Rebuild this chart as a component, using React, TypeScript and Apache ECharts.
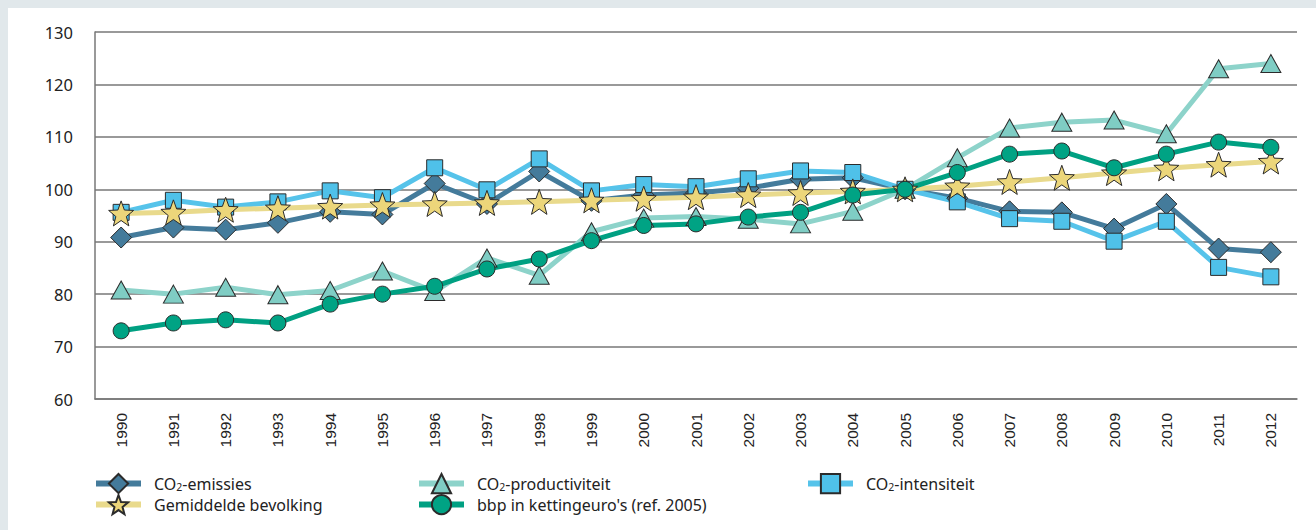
import React, { useEffect, useRef } from "react";
import * as echarts from "echarts";

const years = ["1990","1991","1992","1993","1994","1995","1996","1997","1998","1999","2000","2001","2002","2003","2004","2005","2006","2007","2008","2009","2010","2011","2012"];
const co2Emissies = [90.8, 92.7, 92.3, 93.6, 95.7, 95.2, 101.1, 97.2, 103.4, 97.8, 98.9, 99.3, 100.2, 101.9, 102.2, 100, 98.3, 95.8, 95.6, 92.5, 97.2, 88.7, 88.0];
const bevolking = [95.4, 95.6, 96.1, 96.4, 96.7, 97.0, 97.2, 97.4, 97.6, 97.9, 98.2, 98.5, 98.9, 99.3, 99.6, 100, 100.6, 101.4, 102.2, 103.1, 104.0, 104.7, 105.3];
const co2Productiviteit = [80.8, 80.0, 81.3, 79.9, 80.7, 84.4, 80.5, 86.9, 83.6, 91.9, 94.5, 94.8, 94.3, 93.4, 95.8, 100, 106.0, 111.7, 112.8, 113.2, 110.6, 123.0, 124.0];
const bbp = [73.0, 74.5, 75.1, 74.5, 78.1, 80.0, 81.5, 84.8, 86.7, 90.2, 93.1, 93.4, 94.7, 95.6, 98.9, 100, 103.2, 106.7, 107.3, 104.1, 106.7, 109.0, 108.0];
const co2Intensiteit = [95.6, 97.9, 96.6, 97.6, 99.7, 98.4, 104.1, 99.9, 105.8, 99.7, 100.9, 100.5, 102.0, 103.5, 103.2, 100, 97.6, 94.4, 93.9, 90.1, 93.9, 85.1, 83.3];
const yTicks = { min: 60, max: 130, interval: 10 };

const names = {
  emissies: "CO2-emissies",
  bevolking: "Gemiddelde bevolking",
  productiviteit: "CO2-productiviteit",
  bbp: "bbp in kettingeuro's (ref. 2005)",
  intensiteit: "CO2-intensiteit",
};

function starPath(): string {
  const pts: string[] = [];
  for (let i = 0; i < 10; i++) {
    const r = i % 2 === 0 ? 50 : 21;
    const a = -Math.PI / 2 + (i * Math.PI) / 5;
    pts.push(`${(50 + r * Math.cos(a)).toFixed(2)} ${(52 + r * Math.sin(a)).toFixed(2)}`);
  }
  return "path://M" + pts.join(" L") + " Z";
}

export default function App() {
  const ref = useRef<HTMLDivElement>(null);
  useEffect(() => {
    if (!ref.current) return;
    const chart = echarts.init(ref.current, undefined, { renderer: "svg" });
    const border = "#2b2b2b";
    const font = "'Noto Sans', 'Open Sans', sans-serif";
    const legendFmt = (n: string) => n.startsWith("CO2") ? "CO{sub|2}" + n.slice(3) : n;
    const legendText = {
      fontFamily: font,
      fontSize: 16,
      lineHeight: 17,
      color: "#222",
      padding: [0, 0, 0, 8],
      rich: {
        sub: { fontFamily: font, fontSize: 10.5, lineHeight: 11, color: "#222", padding: [7, 0, 0, 0] },
      },
    };
    const mkLegend = (left: number, top: number, name: string) => ({
      left,
      top,
      padding: 0,
      itemWidth: 45,
      itemHeight: 24,
      data: [name],
      formatter: legendFmt,
      textStyle: legendText,
      lineStyle: { width: 6 },
      selectedMode: false,
    });
    const line = (name: string, data: number[], lineColor: string, fill: string, symbol: string, size: number | number[]) => ({
      name,
      type: "line",
      data,
      symbol,
      symbolSize: size,
      showAllSymbol: true,
      lineStyle: { color: lineColor, width: 5 },
      itemStyle: { color: fill, borderColor: border, borderWidth: 1 },
      emphasis: { disabled: true },
    });
    const row1 = 465;
    const row2 = 486;
    chart.setOption({
      animation: false,
      backgroundColor: "#ffffff",
      grid: { left: 87, right: 19, top: 24, bottom: 131, containLabel: false },
      xAxis: {
        type: "category",
        data: years,
        boundaryGap: true,
        axisLine: { lineStyle: { color: "#777", width: 1.5 } },
        axisTick: { inside: true, length: 13, interval: 0, lineStyle: { color: "#333", width: 1 } },
        axisLabel: {
          rotate: 90,
          interval: 0,
          margin: 14,
          fontFamily: "'Liberation Sans', Arial, sans-serif",
          fontSize: 15.5,
          color: "#222",
        },
      },
      yAxis: {
        type: "value",
        min: yTicks.min,
        max: yTicks.max,
        interval: yTicks.interval,
        axisLine: { show: true, lineStyle: { color: "#777", width: 1.5 } },
        axisTick: { show: false },
        splitLine: { lineStyle: { color: "#777", width: 1.5 } },
        axisLabel: { margin: 22, fontFamily: font, fontSize: 16.5, color: "#222" },
      },
      legend: [
        mkLegend(85, row1, names.emissies),
        mkLegend(85, row2, names.bevolking),
        mkLegend(408, row1, names.productiviteit),
        mkLegend(408, row2, names.bbp),
        mkLegend(797, row1, names.intensiteit),
      ],
      series: [
        line(names.emissies, co2Emissies, "#447b9b", "#447b9b", "diamond", [21, 21]),
        line(names.intensiteit, co2Intensiteit, "#56c3ea", "#4fc1e9", "rect", [16, 16]),
        line(names.productiviteit, co2Productiviteit, "#8dd3ca", "#7fcdc4", "triangle", [20, 18]),
        line(names.bevolking, bevolking, "#e9da8c", "#ecd67a", starPath(), [25, 25]),
        line(names.bbp, bbp, "#00a082", "#00a384", "circle", [16, 16]),
      ],
    });
    return () => chart.dispose();
  }, []);
  return (
    <div style={{ position: "absolute", left: 0, top: 0, width: 1316, height: 530, background: "#e1e8eb" }}>
      <div ref={ref} style={{ position: "absolute", left: 8, top: 8, width: 1308, height: 522, background: "#fff" }} />
    </div>
  );
}
